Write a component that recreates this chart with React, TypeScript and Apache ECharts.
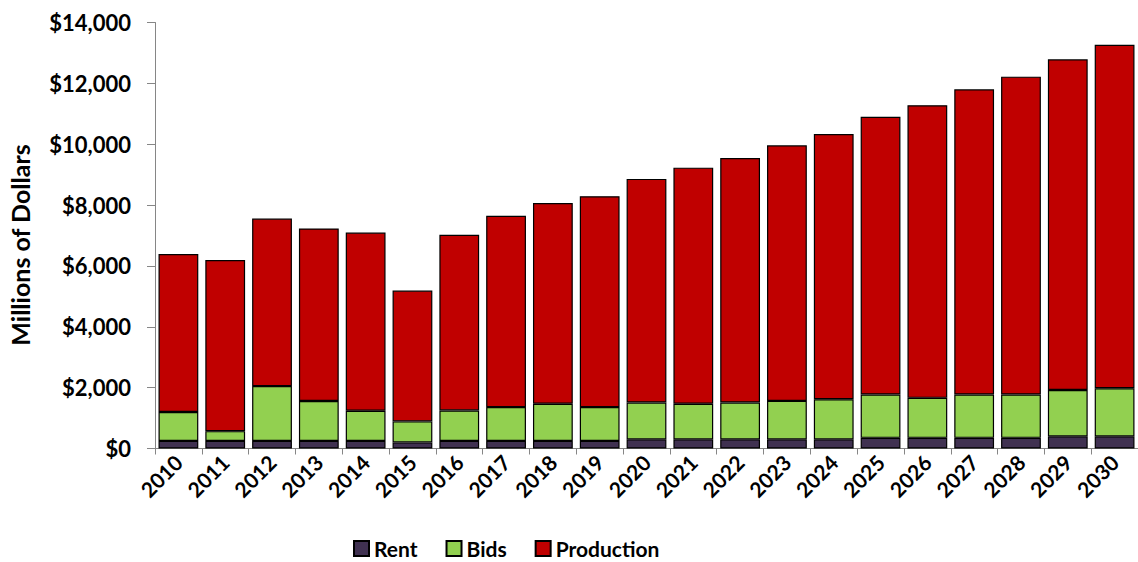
import React, { useEffect, useRef } from "react";
import * as echarts from "echarts";

const years = [
  "2010", "2011", "2012", "2013", "2014", "2015", "2016", "2017", "2018", "2019", "2020",
  "2021", "2022", "2023", "2024", "2025", "2026", "2027", "2028", "2029", "2030",
];
const rent = [250, 250, 250, 250, 250, 200, 250, 250, 250, 250, 300, 300, 300, 300, 300, 350, 350, 350, 350, 400, 400];
const bids = [950, 320, 1800, 1310, 990, 690, 1000, 1110, 1220, 1110, 1210, 1170, 1210, 1265, 1320, 1425, 1315, 1425, 1425, 1525, 1580];
const production = [5190, 5625, 5505, 5670, 5855, 4300, 5775, 6290, 6600, 6930, 7350, 7760, 8035, 8400, 8715, 9130, 9615, 10030, 10445, 10865, 11290];
const yTicks = { min: 0, max: 14000, interval: 2000 };
const yAxisTitle = "Millions of Dollars";

const FONT = "Lato, 'Open Sans', sans-serif";
const fmt = (v: number) => "$" + String(v).replace(/\B(?=(\d{3})+(?!\d))/g, ",");

export default function App() {
  const ref = useRef<HTMLDivElement>(null);
  useEffect(() => {
    if (!ref.current) return;
    const chart = echarts.init(ref.current, null, { renderer: "svg" });
    const border = { borderColor: "#000", borderWidth: 1.2 };
    chart.setOption({
      animation: false,
      backgroundColor: "#fff",
      textStyle: { fontFamily: FONT },
      grid: { left: 155, right: 0, top: 22.5, bottom: 113.5, containLabel: false },
      graphic: [
        {
          type: "text",
          x: 20,
          y: 245,
          rotation: Math.PI / 2,
          style: {
            text: yAxisTitle,
            fontSize: 25,
            fontWeight: "bold",
            fontFamily: FONT,
            fill: "#000",
            align: "center",
            verticalAlign: "middle",
          },
        },
      ],
      legend: {
        left: 353,
        top: 538,
        padding: 0,
        itemWidth: 15,
        itemHeight: 15,
        itemGap: 28,
        icon: "rect",
        textStyle: { fontSize: 21, fontWeight: "bold", color: "#000", fontFamily: FONT },
        data: ["Rent", "Bids", "Production"],
      },
      xAxis: {
        type: "category",
        data: years,
        axisLine: { lineStyle: { color: "#868686", width: 1 } },
        axisTick: { show: true, interval: 0, length: 6, lineStyle: { color: "#868686" } },
        axisLabel: {
          interval: 0,
          rotate: 45,
          margin: 10,
          fontSize: 21,
          fontWeight: "bold",
          color: "#000",
          fontFamily: FONT,
        },
      },
      yAxis: {
        type: "value",
        min: yTicks.min,
        max: yTicks.max,
        interval: yTicks.interval,
        axisLine: { show: true, lineStyle: { color: "#868686", width: 1 } },
        axisTick: { show: true, length: 8, lineStyle: { color: "#868686" } },
        splitLine: { show: false },
        axisLabel: {
          margin: 24,
          fontSize: 22,
          fontWeight: "bold",
          color: "#000",
          fontFamily: FONT,
          formatter: fmt,
        },
      },
      series: [
        { name: "Rent", type: "bar", stack: "t", data: rent, barWidth: "85%", itemStyle: { color: "#403151", ...border } },
        { name: "Bids", type: "bar", stack: "t", data: bids, barWidth: "85%", itemStyle: { color: "#92D050", ...border } },
        { name: "Production", type: "bar", stack: "t", data: production, barWidth: "85%", itemStyle: { color: "#C00000", ...border } },
      ],
    });
    return () => chart.dispose();
  }, []);
  return (
    <div
      ref={ref}
      style={{ position: "absolute", left: 0, top: 0, width: 1138, height: 562, background: "#fff" }}
    />
  );
}
